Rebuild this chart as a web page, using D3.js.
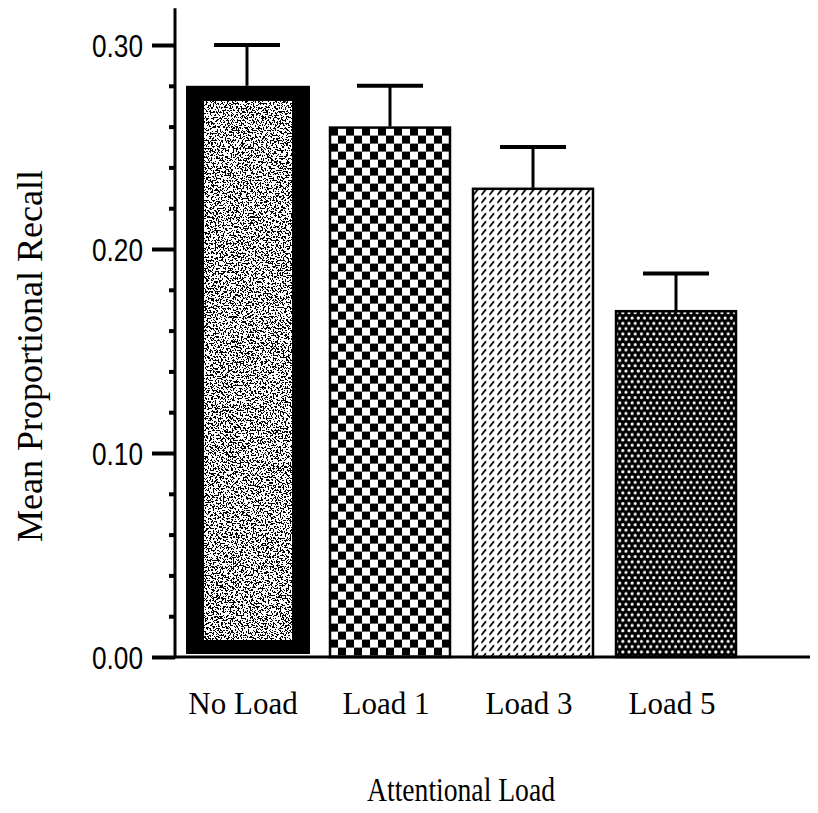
<!DOCTYPE html>
<html>
<head>
<meta charset="utf-8">
<script src="https://cdn.jsdelivr.net/npm/d3@7"></script>
<style>
  html, body { margin: 0; padding: 0; background: #fff; }
  svg { display: block; }
  .cat { font-family: "Liberation Serif", "Times New Roman", serif; font-size: 31px; fill: #000; }
  .title { font-family: "Liberation Serif", "Times New Roman", serif; fill: #000; }
  .tick-label { font-family: "Liberation Sans", Arial, sans-serif; font-size: 32px; fill: #000; }
</style>
</head>
<body>
<script>
// Mean proportional recall by attentional load condition
const categories = ["No Load", "Load 1", "Load 3", "Load 5"];
const meanRecall = [0.28, 0.26, 0.23, 0.17];
const errorBars = [0.02, 0.02, 0.02, 0.018];
const majorTicks = [0.00, 0.10, 0.20, 0.30];
const minorTicks = [0.02, 0.04, 0.06, 0.08, 0.12, 0.14, 0.16, 0.18, 0.22, 0.24, 0.26, 0.28];
const axisTop = 0.318;
const yTitle = "Mean Proportional Recall";
const xTitle = "Attentional Load";

const W = 818, H = 813;
const svg = d3.select("body").append("svg").attr("width", W).attr("height", H);
const defs = svg.append("defs");

const y = d3.scaleLinear().domain([0, 0.30]).range([657, 45]);
const x = d3.scaleBand().domain(categories).range([186, 737]).paddingInner(0.147).paddingOuter(0);
const axisX = 175;

// --- fill patterns ---
// speckled grey noise for the first bar
const speckle = defs.append("filter").attr("id", "speckle")
  .attr("x", 0).attr("y", 0).attr("width", 1).attr("height", 1)
  .attr("color-interpolation-filters", "sRGB");
speckle.append("feTurbulence").attr("type", "fractalNoise")
  .attr("baseFrequency", 0.6).attr("numOctaves", 2).attr("seed", 7).attr("result", "n");
speckle.append("feColorMatrix").attr("type", "matrix")
  .attr("values", "1 0 0 0 0  1 0 0 0 0  1 0 0 0 0  0 0 0 0 1").attr("result", "g");
const ct = speckle.append("feComponentTransfer");
["feFuncR", "feFuncG", "feFuncB"].forEach(f =>
  ct.append(f).attr("type", "discrete").attr("tableValues", "0 0 0 0 0 0 1 1 1 1 1 1 1"));

// checkerboard
const checker = defs.append("pattern").attr("id", "checker")
  .attr("patternUnits", "userSpaceOnUse").attr("width", 16).attr("height", 16)
  .attr("x", x("Load 1") + 1).attr("y", y(meanRecall[1]) + 1);
checker.append("rect").attr("width", 16).attr("height", 16).attr("fill", "#fff");
checker.append("rect").attr("width", 8).attr("height", 8).attr("fill", "#000");
checker.append("rect").attr("x", 8).attr("y", 8).attr("width", 8).attr("height", 8).attr("fill", "#000");

// small diagonal dashes
const dashes = defs.append("pattern").attr("id", "dashes")
  .attr("patternUnits", "userSpaceOnUse").attr("width", 8).attr("height", 8)
  .attr("x", x("Load 3")).attr("y", y(meanRecall[2]));
dashes.append("rect").attr("width", 8).attr("height", 8).attr("fill", "#fff");
dashes.append("line").attr("x1", 2).attr("y1", 6.5).attr("x2", 5.5).attr("y2", 2)
  .attr("stroke", "#000").attr("stroke-width", 1.9).attr("stroke-linecap", "round");

// white dots on black
const dots = defs.append("pattern").attr("id", "dots")
  .attr("patternUnits", "userSpaceOnUse").attr("width", 6.2).attr("height", 10.6)
  .attr("x", x("Load 5")).attr("y", y(meanRecall[3]));
dots.append("rect").attr("width", 6.2).attr("height", 10.6).attr("fill", "#000");
dots.append("circle").attr("cx", 1.6).attr("cy", 2.6).attr("r", 1.55).attr("fill", "#fff");
dots.append("circle").attr("cx", 4.7).attr("cy", 7.9).attr("r", 1.55).attr("fill", "#fff");

const fills = ["speckle", "url(#checker)", "url(#dashes)", "url(#dots)"];

// --- bars ---
const bars = svg.append("g");
categories.forEach((c, i) => {
  const bx = x(c), bw = x.bandwidth(), top = y(meanRecall[i]), bottom = y(0);
  if (fills[i] === "speckle") {
    bars.append("rect").attr("x", bx).attr("y", top).attr("width", bw + 2).attr("height", bottom - top - 3)
      .attr("fill", "#000");
    const inset = 18;
    bars.append("rect").attr("x", bx + inset).attr("y", top + 16)
      .attr("width", bw + 2 - 2 * inset).attr("height", bottom - top - 3 - 16 - 14)
      .attr("fill", "#fff").attr("filter", "url(#speckle)");
  } else {
    bars.append("rect").attr("x", bx + 1).attr("y", top + 1).attr("width", bw - 2).attr("height", bottom - top - 1)
      .attr("fill", fills[i]).attr("stroke", "#000").attr("stroke-width", 2.5);
  }
});

// --- error bars ---
const err = svg.append("g").attr("stroke", "#000");
categories.forEach((c, i) => {
  const cx = x(c) + x.bandwidth() / 2;
  const yt = y(meanRecall[i] + errorBars[i]);
  err.append("line").attr("x1", cx).attr("x2", cx).attr("y1", y(meanRecall[i])).attr("y2", yt).attr("stroke-width", 3);
  err.append("line").attr("x1", cx - 33).attr("x2", cx + 33).attr("y1", yt).attr("y2", yt).attr("stroke-width", 4);
});

// --- axes ---
const axes = svg.append("g");
axes.append("line").attr("x1", axisX).attr("x2", axisX).attr("y1", y(axisTop)).attr("y2", y(0) + 1.5)
  .attr("stroke", "#000").attr("stroke-width", 3);
axes.append("line").attr("x1", axisX).attr("x2", 810).attr("y1", y(0)).attr("y2", y(0))
  .attr("stroke", "#000").attr("stroke-width", 3);

const majorAxis = d3.axisLeft(y).tickValues(majorTicks).tickSize(23).tickPadding(9)
  .tickFormat(d3.format(".2f"));
const gMajor = axes.append("g").attr("transform", `translate(${axisX},0)`).call(majorAxis);
gMajor.select(".domain").remove();
gMajor.selectAll(".tick line").attr("stroke", "#000").attr("stroke-width", 4);
gMajor.selectAll(".tick text").attr("class", "tick-label").attr("font-size", null).attr("font-family", null)
  .attr("fill", "#000").attr("dy", "0.36em")
  .attr("textLength", 51).attr("lengthAdjust", "spacingAndGlyphs");

const minorAxis = d3.axisLeft(y).tickValues(minorTicks).tickSize(6).tickFormat("");
const gMinor = axes.append("g").attr("transform", `translate(${axisX},0)`).call(minorAxis);
gMinor.select(".domain").remove();
gMinor.selectAll(".tick line").attr("stroke", "#000").attr("stroke-width", 4);

// --- category labels ---
svg.append("g").selectAll("text").data(categories).join("text")
  .attr("class", "cat")
  .attr("x", d => x(d) + x.bandwidth() / 2 - 4)
  .attr("y", 714)
  .attr("text-anchor", "middle")
  .text(d => d);

// --- axis titles ---
svg.append("text").attr("class", "title")
  .attr("x", 461).attr("y", 801).attr("text-anchor", "middle")
  .attr("font-size", 34).attr("textLength", 188).attr("lengthAdjust", "spacingAndGlyphs")
  .text(xTitle);

svg.append("text").attr("class", "title")
  .attr("transform", "translate(42,356) rotate(-90)")
  .attr("text-anchor", "middle")
  .attr("font-size", 35).attr("textLength", 372).attr("lengthAdjust", "spacingAndGlyphs")
  .text(yTitle);
</script>
</body>
</html>
